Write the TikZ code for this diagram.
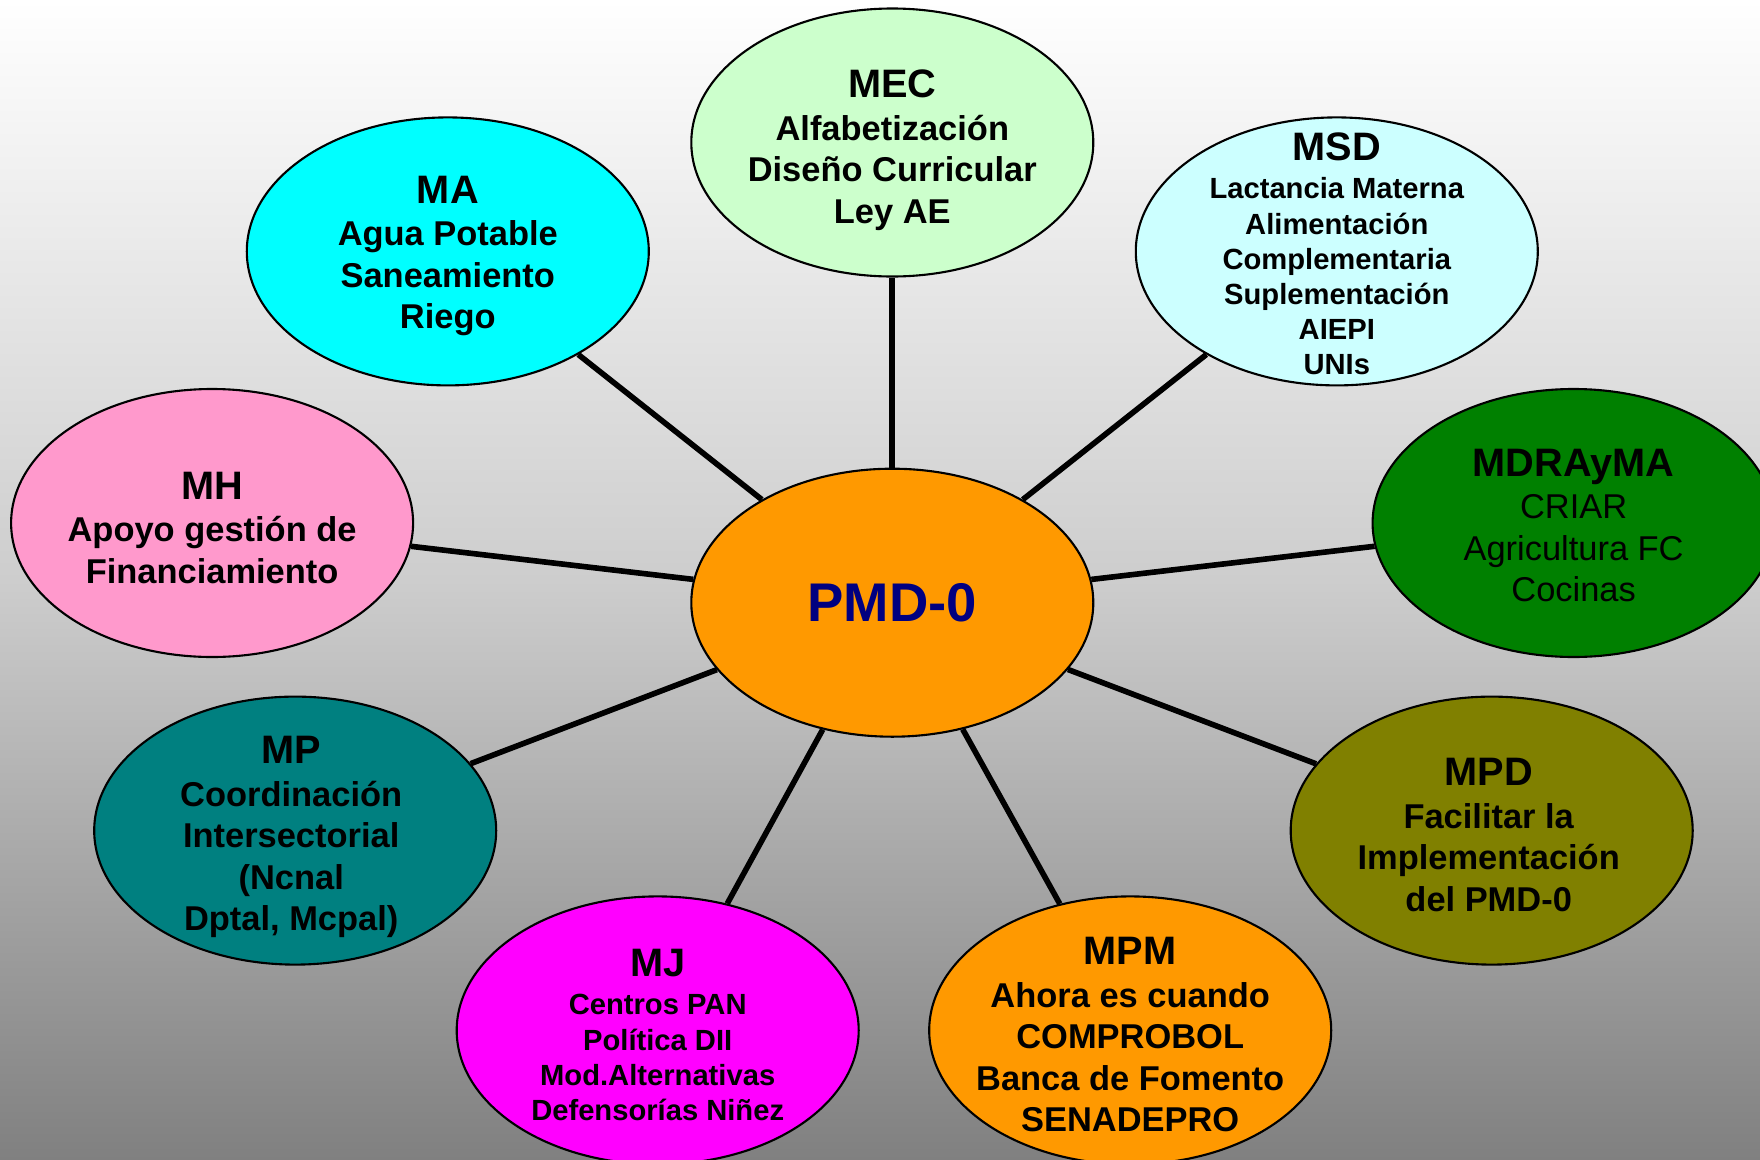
\documentclass[tikz,border=0pt]{standalone}
\usepackage{fontspec}
\setmainfont{Liberation Sans}
\usetikzlibrary{shapes.geometric}

\definecolor{bgLow}{RGB}{128,128,128}
\definecolor{bgMid}{RGB}{205,205,205}
\definecolor{pmdOrange}{RGB}{255,153,0}
\definecolor{pmdNavy}{RGB}{0,0,128}
\definecolor{maCyan}{RGB}{0,255,255}
\definecolor{mecGreen}{RGB}{204,255,204}
\definecolor{msdCyan}{RGB}{204,255,255}
\definecolor{mhPink}{RGB}{255,153,204}
\definecolor{mdrGreen}{RGB}{0,128,0}
\definecolor{mpTeal}{RGB}{0,128,128}
\definecolor{mpdOlive}{RGB}{128,128,0}
\definecolor{mjMagenta}{RGB}{255,0,255}

\newcommand{\bubTitle}{\bfseries\fontsize{11.3}{13}\selectfont}

\tikzset{
  bubble/.style={ellipse, draw=black, line width=0.6pt, minimum width=4.02cm,
    minimum height=2.68cm, inner sep=0pt},
  txt/.style={align=center, inner sep=0pt, yshift=-0.045cm,
    font=\bfseries\fontsize{9.8}{11.8}\selectfont},
  smalltxt/.style={txt, font=\bfseries\fontsize{8.3}{10}\selectfont},
  link/.style={line width=1.6pt, black}
}

\begin{document}
\begin{tikzpicture}
  % background
  \useasboundingbox (0,0) rectangle (17.6,-11.6);
  \fill[top color=white, bottom color=bgLow, middle color=bgMid] (0,0) rectangle (17.6,-11.6);

  % ellipses
  \node[bubble, fill=pmdOrange] (pmd) at (8.923,-6.027) {};
  \node[bubble, fill=mecGreen] (mec) at (8.923,-1.425) {};
  \node[bubble, fill=maCyan] (ma) at (4.478,-2.514) {};
  \node[bubble, fill=msdCyan] (msd) at (13.368,-2.514) {};
  \node[bubble, fill=mhPink] (mh) at (2.121,-5.230) {};
  \node[bubble, fill=mdrGreen] (mdr) at (15.736,-5.230) {};
  \node[bubble, fill=mpTeal] (mp) at (2.952,-8.306) {};
  \node[bubble, fill=mpdOlive] (mpd) at (14.917,-8.306) {};
  \node[bubble, fill=mjMagenta] (mj) at (6.577,-10.304) {};
  \node[bubble, fill=pmdOrange] (mpm) at (11.302,-10.304) {};

  % texts
  \node[txt, yshift=0.045cm, text=pmdNavy, font=\bfseries\fontsize{15.5}{18}\selectfont] (pmdTxt) at (pmd) {PMD-0};
  \node[txt, yshift=-0.03cm] (mecTxt) at (mec) {{\bubTitle MEC}\\[0.3pt] Alfabetización\\ Diseño Curricular\\ Ley AE};
  \node[txt] (maTxt) at (ma) {{\bubTitle MA}\\[0.3pt] Agua Potable\\ Saneamiento\\ Riego};
  \node[smalltxt, yshift=0.02cm] (msdTxt) at (msd) {{\bubTitle MSD}\\[0.9pt] Lactancia Materna\\ Alimentación\\ Complementaria\\ Suplementación\\ AIEPI\\ UNIs};
  \node[txt] (mhTxt) at (mh) {{\bubTitle MH}\\[0.3pt] Apoyo gestión de\\ Financiamiento};
  \node[txt, yshift=0.02cm, font=\fontsize{9.8}{11.8}\selectfont] (mdrTxt) at (mdr) {{\bubTitle MDRAyMA}\\[0.3pt] CRIAR\\ Agricultura FC\\ Cocinas};
  \node[txt, xshift=-0.04cm, yshift=-0.02cm] (mpTxt) at (mp) {{\bubTitle MP}\\[0.3pt] Coordinación\\ Intersectorial\\ (Ncnal\\ Dptal, Mcpal)};
  \node[txt, xshift=-0.03cm] (mpdTxt) at (mpd) {{\bubTitle MPD}\\[0.3pt] Facilitar la\\ Implementación\\ del PMD-0};
  \node[smalltxt] (mjTxt) at (mj) {{\bubTitle MJ}\\[0.9pt] Centros PAN\\ Política DII\\ Mod.Alternativas\\ Defensorías Niñez};
  \node[txt] (mpmTxt) at (mpm) {{\bubTitle MPM}\\[0.3pt] Ahora es cuando\\ COMPROBOL\\ Banca de Fomento\\ SENADEPRO};

  % links
  \draw[link] (pmd) -- (mec);
  \draw[link] (pmd) -- (ma);
  \draw[link] (pmd) -- (msd);
  \draw[link] (pmd) -- (mh);
  \draw[link] (pmd) -- (mdr);
  \draw[link] (pmd) -- (mp);
  \draw[link] (pmd) -- (mpd);
  \draw[link] (pmd) -- (mj);
  \draw[link] (pmd) -- (mpm);
\end{tikzpicture}
\end{document}
